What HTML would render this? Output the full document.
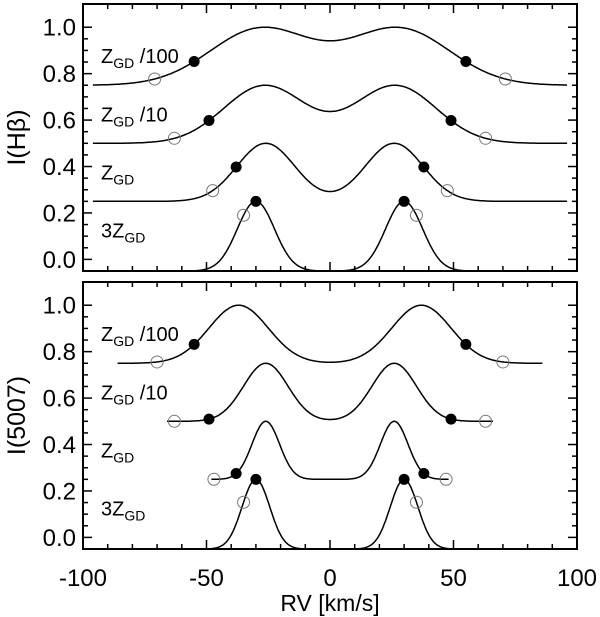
<!DOCTYPE html>
<html><head><meta charset="utf-8"><style>
body{margin:0;background:#fff}
svg{display:block;font-family:"Liberation Sans",sans-serif}
</style></head><body>
<svg id="chart" width="600" height="617" viewBox="0 0 600 617"></svg>
<script>
// ---- data ----
const xTicks = [-100, -50, 0, 50, 100];
const yTicks = [0.0, 0.2, 0.4, 0.6, 0.8, 1.0];
const labels = ["/100", "/10", "", "3"];
const baselines = [0.75, 0.5, 0.25, -0.05];
const peaks = [1.0, 0.75, 0.5, 0.25];
// top panel (H-beta) profile parameters
const topPeakVel = [28, 26.5, 26, 30];
const topWidth = [20.5, 16.5, 11.7, 7.5];
const topRange = [96, 96, 96, 58];
const topFilledX = [55, 49, 38, 30];
const topOpenX = [71, 63, 47.5, 35];
// bottom panel (5007) profile parameters
const botPeakVel = [37, 26, 26, 30];
const botWidth = [12, 9, 5.6, 5.6];
const botRange = [86, 66, 48, 48];
const botFilledX = [55, 49, 38, 30];
const botOpenX = [70, 63, 47, 35];

const NS = "http://www.w3.org/2000/svg";
const svg = document.getElementById("chart");
function mk(t, a, p) { const e = document.createElementNS(NS, t); for (const k in a) e.setAttribute(k, a[k]); (p || svg).appendChild(e); return e; }

const X0 = 83, X1 = 577;
const xs = v => X0 + (v + 100) / 200 * (X1 - X0);
const panels = [
  { top: 4, bot: 271, name: "hbeta", title: "I(H\u03b2)", pv: topPeakVel, w: topWidth, range: topRange, fx: topFilledX, ox: topOpenX },
  { top: 282, bot: 549, name: "oiii-5007", title: "I(5007)", pv: botPeakVel, w: botWidth, range: botRange, fx: botFilledX, ox: botOpenX }
];

function prof(x, v, s) {
  const g = u => Math.exp(-u * u / (2 * s * s));
  return g(x - v) + g(x + v);
}

panels.forEach(P => {
  const ys = v => P.top + (1.1 - v) / 1.15 * (P.bot - P.top);
  const g = mk("g", {});
  
  
  const clipId = "clip-" + P.name;
  const cp = mk("clipPath", { id: clipId }, g);
  mk("rect", { x: X0, y: P.top, width: X1 - X0, height: P.bot - P.top }, cp);
  const inner = mk("g", { "clip-path": `url(#${clipId})` }, g);

  baselines.forEach((b, i) => {
    const v = P.pv[i], s = P.w[i];
    let mx = 0; for (let x = 0; x <= 100; x += 0.1) mx = Math.max(mx, prof(x, v, s));
    const A = (peaks[i] - b) / mx;
    const f = x => b + A * prof(x, v, s);
    let d = "";
    const R = P.range[i];
    for (let x = -R; x <= R + 0.01; x += 0.5) d += (d ? "L" : "M") + xs(x).toFixed(1) + "," + ys(f(x)).toFixed(1);
    const path = mk("path", { d: d, fill: "none", stroke: "#000", "stroke-width": 1.5 }, inner);
    
    
    [-1, 1].forEach(sg => {
      const c1 = mk("circle", { cx: xs(sg * P.ox[i]), cy: ys(f(sg * P.ox[i])), r: 6, fill: "none", stroke: "#777", "stroke-width": 1 }, g);
      
      
      const c2 = mk("circle", { cx: xs(sg * P.fx[i]), cy: ys(f(sg * P.fx[i])), r: 5.5, fill: "#000" }, g);
      
      
    });
    const lb = i === 3 ? 0 : b;
    const ly = ys(lb + 0.125) + 7;
    const lt = mk("text", { x: 101, y: ly, "font-size": 20 }, g);
    
    
    const pre = labels[i] === "3" ? "3" : "";
    const suf = labels[i] === "3" ? "" : labels[i];
    lt.innerHTML = `${pre}Z<tspan font-size="14" dy="5">GD</tspan><tspan dy="-5">${suf ? " " + suf : ""}</tspan>`;
  });

  mk("rect", { x: X0, y: P.top, width: X1 - X0, height: P.bot - P.top, fill: "none", stroke: "#000", "stroke-width": 2 }, g);
  for (let v = -100; v <= 100; v += 10) {
    const L = v % 50 === 0 ? 9 : 5;
    mk("line", { x1: xs(v), x2: xs(v), y1: P.bot, y2: P.bot - L, stroke: "#000", "stroke-width": 1.5 }, g);
    mk("line", { x1: xs(v), x2: xs(v), y1: P.top, y2: P.top + L, stroke: "#000", "stroke-width": 1.5 }, g);
  }
  for (let i = 0; i <= 21; i++) {
    const v = -0.05 + i * 0.05; if (v < -0.01 || v > 1.09) continue;
    const major = Math.abs(Math.round(v * 5) - v * 5) < 1e-6;
    const L = major ? 9 : 5;
    mk("line", { x1: X0, x2: X0 + L, y1: ys(v), y2: ys(v), stroke: "#000", "stroke-width": 1.5 }, g);
    mk("line", { x1: X1, x2: X1 - L, y1: ys(v), y2: ys(v), stroke: "#000", "stroke-width": 1.5 }, g);
  }
  yTicks.forEach(v => {
    const t = mk("text", { x: 76, y: ys(v) + 8.5, "text-anchor": "end", "font-size": 24 }, g);
    t.textContent = v.toFixed(1);
    
    
  });
  const yc = (P.top + P.bot) / 2;
  const tt = mk("text", { x: 0, y: 0, "text-anchor": "middle", "font-size": 25, transform: `translate(25,${yc}) rotate(-90)` }, g);
  tt.textContent = P.title;
  
  
});
xTicks.forEach(v => {
  const t = mk("text", { x: xs(v), y: 586, "text-anchor": "middle", "font-size": 24 });
  t.textContent = String(v);
  
  
});
const xt = mk("text", { x: 330, y: 611, "text-anchor": "middle", "font-size": 23 });
xt.textContent = "RV [km/s]";


</script>
</body></html>
